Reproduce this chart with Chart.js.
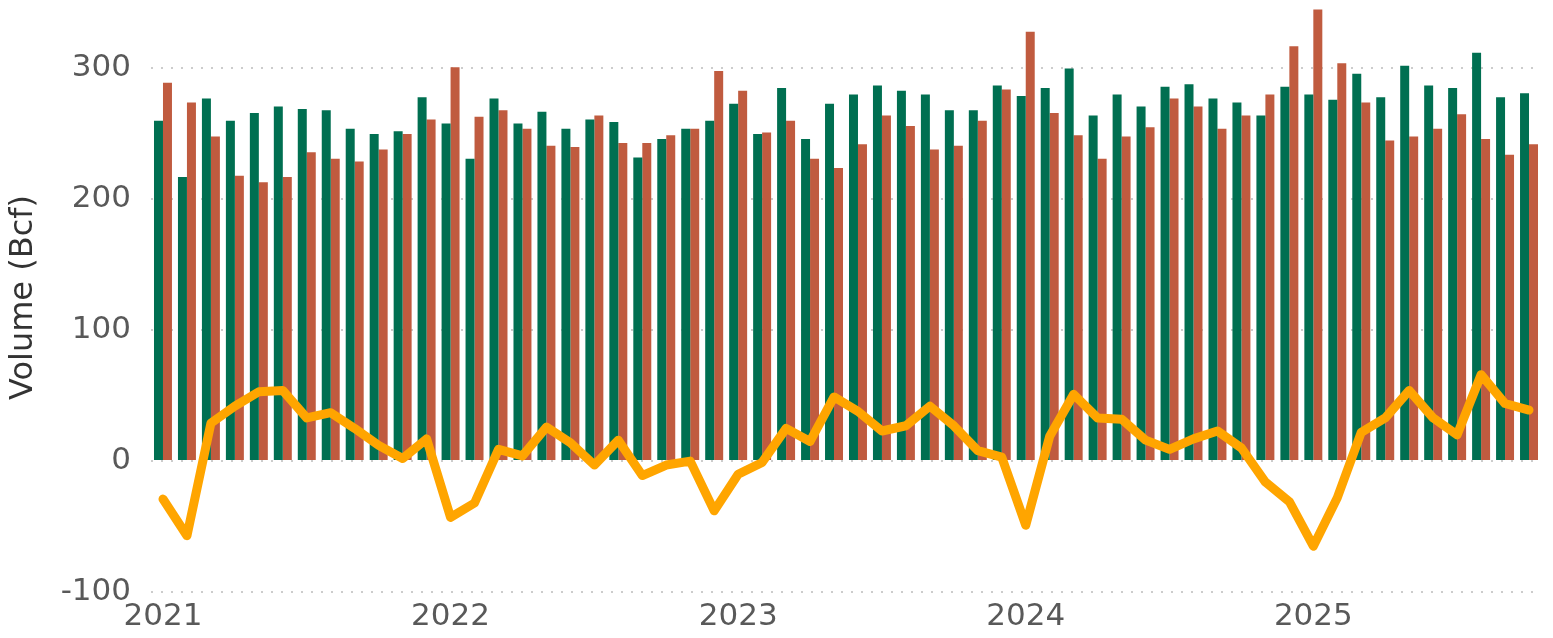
<!DOCTYPE html>
<html>
<head>
<meta charset="utf-8">
<script src="https://cdn.jsdelivr.net/npm/chart.js@4.4.1/dist/chart.umd.min.js"></script>
<style>
    body { margin: 0; background: #fff; }
    #grafica { display: block; }
</style>
</head>
<body>
<canvas id="grafica" width="1553" height="638"></canvas>
<script>
const meses = [
    '2021-01','2021-02','2021-03','2021-04','2021-05','2021-06','2021-07','2021-08','2021-09','2021-10','2021-11','2021-12',
    '2022-01','2022-02','2022-03','2022-04','2022-05','2022-06','2022-07','2022-08','2022-09','2022-10','2022-11','2022-12',
    '2023-01','2023-02','2023-03','2023-04','2023-05','2023-06','2023-07','2023-08','2023-09','2023-10','2023-11','2023-12',
    '2024-01','2024-02','2024-03','2024-04','2024-05','2024-06','2024-07','2024-08','2024-09','2024-10','2024-11','2024-12',
    '2025-01','2025-02','2025-03','2025-04','2025-05','2025-06','2025-07','2025-08','2025-09','2025-10'
]

// barras verdes
const verde = [
    260,217,277,260,266,271,269,268,254,250,252,278,
    258,231,277,258,267,254,261,259,232,246,254,260,
    273,250,285,246,273,280,287,283,280,268,268,287,
    279,285,300,264,280,271,286,288,277,274,264,286,
    280,276,296,278,302,287,285,312,278,281
]

// barras rojizas
const rojo = [
    289,274,248,218,213,217,236,231,229,238,250,261,
    301,263,268,254,241,240,264,243,243,249,254,298,
    283,251,260,231,224,242,264,256,238,241,260,284,
    328,266,249,231,248,255,277,271,254,264,280,317,
    345,304,274,245,248,254,265,246,234,242
]

// linea naranja
const diferencia = [
    -29,-57,29,42,53,54,33,37,25,12,2,17,
    -43,-32,9,4,26,14,-3,16,-11,-3,0,-38,
    -10,-1,25,15,49,38,23,27,42,27,8,3,
    -49,19,51,33,32,16,9,17,23,10,-16,-31,
    -65,-28,22,33,54,33,20,66,44,39
]

const ticksY = [-100, 0, 100, 200, 300]

const fuente = 'DejaVu Sans, Verdana, sans-serif'
const ctx = document.getElementById('grafica')

new Chart(ctx, {
    type: 'bar',
    data: {
        labels: meses,
        datasets: [{
            type: 'line',
            data: diferencia,
            borderColor: '#FFA500',
            borderWidth: 9,
            borderCapStyle: 'round',
            borderJoinStyle: 'round',
            pointRadius: 0,
            tension: 0,
            order: 0
        }, {
            data: verde,
            backgroundColor: '#006F51',
            categoryPercentage: 0.75,
            barPercentage: 1,
            order: 1
        }, {
            data: rojo,
            backgroundColor: '#C05B3F',
            categoryPercentage: 0.75,
            barPercentage: 1,
            order: 1
        }]
    },
    options: {
        responsive: false,
        animation: false,
        devicePixelRatio: 1,
        layout: { padding: { top: 3, right: 12, bottom: 0, left: 0 } },
        plugins: { legend: { display: false }, tooltip: { enabled: false } },
        scales: {
            x: {
                offset: true,
                grid: { display: false, drawTicks: false },
                border: { display: false },
                ticks: {
                    autoSkip: false,
                    maxRotation: 0,
                    padding: 6,
                    color: '#595959',
                    font: { family: fuente, size: 31 },
                    callback: function (v) {
                        const m = meses[v]
                        return m.endsWith('-01') ? m.slice(0, 4) : null
                    }
                },
                afterFit: (scale) => {
                    scale.height = 46
                    scale.paddingLeft = 0
                    scale.paddingRight = 0
                }
            },
            y: {
                min: -100,
                max: 350,
                afterBuildTicks: (scale) => { scale.ticks = ticksY.map(v => ({ value: v })) },
                afterFit: (scale) => {
                    scale.width = 151
                    scale.paddingTop = 0
                    scale.paddingBottom = 0
                },
                grid: { color: '#CCCCCC', lineWidth: 2, drawTicks: false },
                border: { display: false, dash: [2, 8] },
                ticks: {
                    padding: 20,
                    color: '#595959',
                    font: { family: fuente, size: 31 }
                },
                title: {
                    display: true,
                    text: 'Volume (Bcf)',
                    color: '#333333',
                    font: { family: fuente, size: 32 }
                }
            }
        }
    }
})
</script>
</body>
</html>
